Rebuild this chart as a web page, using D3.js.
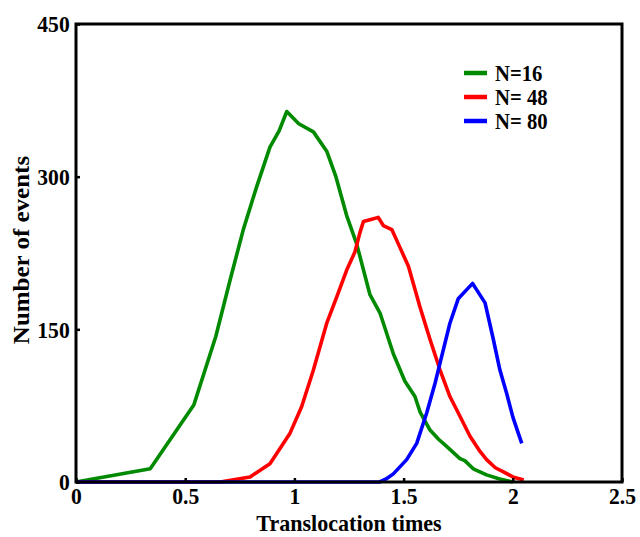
<!DOCTYPE html>
<html><head><meta charset="utf-8">
<script src="https://cdn.jsdelivr.net/npm/d3@7"></script>
<style>
html,body{margin:0;padding:0;background:#fff;}
svg{display:block;}
text{font-family:"Liberation Serif","Times New Roman",serif;font-weight:bold;fill:#000;}
</style></head>
<body>
<svg id="chart" width="640" height="537"></svg>
<script>
// ---- data ----
const seriesNames = ["N=16", "N= 48", "N= 80"];
const seriesColors = ["#008a00", "#ff0000", "#0000ff"];

const n16T = [0, 0.34, 0.54, 0.64, 0.705, 0.766, 0.827, 0.888, 0.93, 0.965, 1.02, 1.087, 1.148, 1.19, 1.239, 1.285, 1.346, 1.392, 1.453, 1.506, 1.552, 1.575, 1.621, 1.66, 1.697, 1.758, 1.78, 1.819, 1.88, 1.94, 2.0];
const n16V = [0, 13, 76, 143, 198, 248, 290, 329, 345, 364, 352, 344, 325, 300, 262, 234, 184, 166, 126, 99, 84, 69, 51, 42, 35, 23, 21, 13, 7, 3, 0];

const n48T = [0, 0.66, 0.797, 0.888, 0.98, 1.033, 1.087, 1.148, 1.194, 1.239, 1.277, 1.3, 1.316, 1.35, 1.384, 1.407, 1.446, 1.48, 1.522, 1.575, 1.621, 1.667, 1.712, 1.743, 1.804, 1.85, 1.88, 1.92, 1.957, 2.0, 2.05];
const n48V = [0, 0, 5, 18, 48, 74, 110, 156, 182, 208, 226, 245, 256, 258, 260, 252, 248, 232, 212, 172, 140, 110, 84, 71, 45, 30, 22, 14, 10, 5, 2];

const n80T = [0, 1.39, 1.42, 1.453, 1.514, 1.56, 1.606, 1.644, 1.667, 1.712, 1.75, 1.789, 1.816, 1.834, 1.873, 1.911, 1.941, 1.972, 2.0, 2.025, 2.041];
const n80V = [0, 0, 3, 8, 22, 38, 68, 97, 117, 156, 180, 189, 195, 189, 176, 140, 110, 87, 64, 48, 38];

const xTicks = [0, 0.5, 1, 1.5, 2, 2.5];
const xTickLabels = ["0", "0.5", "1", "1.5", "2", "2.5"];
const yTicks = [0, 150, 300, 450];
const yTickLabels = ["0", "150", "300", "450"];
const xTitle = "Translocation times";
const yTitle = "Number of events";

// ---- layout ----
const svg = d3.select("#chart");
const m = {left: 76, right: 622, top: 24, bottom: 482};
const x = d3.scaleLinear().domain([0, 2.5]).range([m.left, m.right]);
const y = d3.scaleLinear().domain([0, 450]).range([m.bottom, m.top]);
const FS = 24, SX = 0.9;

const series = [
  {t: n16T, v: n16V},
  {t: n48T, v: n48V},
  {t: n80T, v: n80V}
];

const line = d3.line().x(d => x(d[0])).y(d => y(d[1]));
series.forEach((s, i) => {
  const pts = s.t.map((t, j) => [t, s.v[j]]);
  svg.append("path").attr("d", line(pts))
    .attr("fill", "none").attr("stroke", seriesColors[i])
    .attr("stroke-width", 3.6).attr("stroke-linejoin", "round");
});

// axes
const xAxis = d3.axisBottom(x).tickValues(xTicks)
  .tickFormat((d, i) => xTickLabels[i]).tickSizeInner(-4).tickSizeOuter(0).tickPadding(5);
const gx = svg.append("g").attr("transform", `translate(0,${m.bottom})`).call(xAxis);
const yAxis = d3.axisLeft(y).tickValues(yTicks)
  .tickFormat((d, i) => yTickLabels[i]).tickSizeInner(-4).tickSizeOuter(0).tickPadding(7);
const gy = svg.append("g").attr("transform", `translate(${m.left},0)`).call(yAxis);
[gx, gy].forEach(g => {
  g.select(".domain").remove();
  g.selectAll(".tick line").attr("stroke", "#000").attr("stroke-width", 2.5);
  g.selectAll(".tick text").attr("font-size", FS).attr("font-family", null)
    .attr("transform", `scale(${SX},1)`);
});
gx.selectAll(".tick text").attr("x", 0);

// frame
svg.append("rect").attr("x", m.left).attr("y", m.top)
  .attr("width", m.right - m.left).attr("height", m.bottom - m.top)
  .attr("fill", "none").attr("stroke", "#000").attr("stroke-width", 3);

// titles
svg.append("text").attr("transform", `translate(${(m.left + m.right) / 2},531) scale(0.92,1)`)
  .attr("text-anchor", "middle").attr("font-size", 24).text(xTitle);
svg.append("text").attr("transform", `translate(29,${(m.top + m.bottom) / 2 - 3}) scale(${SX},1) rotate(-90)`)
  .attr("text-anchor", "middle").attr("font-size", 25).text(yTitle);

// legend
const lg = svg.append("g");
const legY = [73, 97, 121];
seriesNames.forEach((nm, i) => {
  lg.append("line").attr("x1", 464).attr("x2", 487).attr("y1", legY[i]).attr("y2", legY[i])
    .attr("stroke", seriesColors[i]).attr("stroke-width", 4.5);
  lg.append("text").attr("transform", `translate(495,${legY[i] + 8}) scale(${SX},1)`)
    .attr("font-size", 23).text(nm);
});
</script>
</body></html>
